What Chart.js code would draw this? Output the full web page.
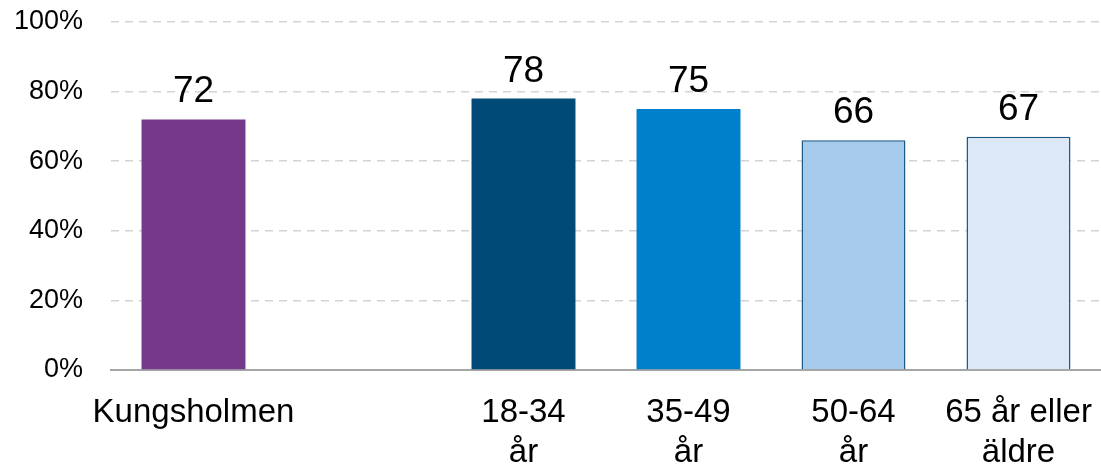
<!DOCTYPE html>
<html>
<head>
<meta charset="utf-8">
<script src="https://cdn.jsdelivr.net/npm/chart.js@4/dist/chart.umd.min.js"></script>
<style>
html,body{margin:0;padding:0;background:#fff;}
#wrap{width:1101px;height:468px;}
</style>
</head>
<body>
<div id="wrap"><canvas id="c" width="1101" height="468"></canvas></div>
<script>
const categories = [["Kungsholmen"], [""], ["18-34", "år"], ["35-49", "år"], ["50-64", "år"], ["65 år eller", "äldre"]];
const values = [72, null, 78, 75, 66, 67];
const barColors = ["#76388B", "#ffffff", "#004A78", "#0080CB", "#A5CAEC", "#DCE8F7"];
const borderColors = ["#76388B", "#ffffff", "#004A78", "#0080CB", "#1F5A86", "#1F5A86"];
const borderWidths = [0, 0, 0, 0, 1.5, 1.5];
const yTicks = [0, 20, 40, 60, 80, 100];

const FONT = "'Liberation Sans', Arial, sans-serif";

const labelPlugin = {
  id: 'valueLabels',
  afterDatasetsDraw(chart) {
    const ctx = chart.ctx;
    const meta = chart.getDatasetMeta(0);
    ctx.save();
    ctx.font = "37px " + FONT;
    ctx.fillStyle = "#000";
    ctx.textAlign = "center";
    ctx.textBaseline = "alphabetic";
    meta.data.forEach((el, i) => {
      const v = values[i];
      if (v === null || v === undefined) return;
      const p = el.getProps(['x', 'y'], true);
      ctx.fillText(String(v), p.x, p.y - 17);
    });
    ctx.restore();
  }
};

new Chart(document.getElementById('c'), {
  type: 'bar',
  data: {
    labels: categories,
    datasets: [{
      data: values,
      backgroundColor: barColors,
      borderColor: borderColors,
      borderWidth: borderWidths,
      barPercentage: 0.63,
      categoryPercentage: 1.0
    }]
  },
  options: {
    responsive: false,
    animation: false,
    devicePixelRatio: 1,
    layout: { padding: { top: 22, right: 0, left: 0, bottom: 0 } },
    plugins: { legend: { display: false }, tooltip: { enabled: false } },
    scales: {
      x: {
        grid: { display: false },
        border: { display: true, color: "#A6A6A6", width: 2 },
        ticks: {
          color: "#000",
          font: { family: FONT, size: 33, lineHeight: 1.22 },
          maxRotation: 0,
          autoSkip: false,
          padding: 15
        },
        afterFit(scale) {
          scale.height = 98;
          scale.paddingLeft = 0; scale.paddingRight = 0;
        }
      },
      y: {
        min: 0, max: 100,
        afterBuildTicks(scale) { scale.ticks = yTicks.map(v => ({ value: v })); },
        grid: { color: "#D4D4D4", lineWidth: 1.5, drawTicks: false },
        border: { display: false, dash: [8, 6] },
        ticks: {
          color: "#000",
          font: { family: FONT, size: 27 },
          padding: 28,
          callback: v => v + "%"
        },
        afterFit(scale) {
          scale.width = 111;
          scale.paddingTop = 0; scale.paddingBottom = 0;
        }
      }
    }
  },
  plugins: [labelPlugin]
});
</script>
</body>
</html>
